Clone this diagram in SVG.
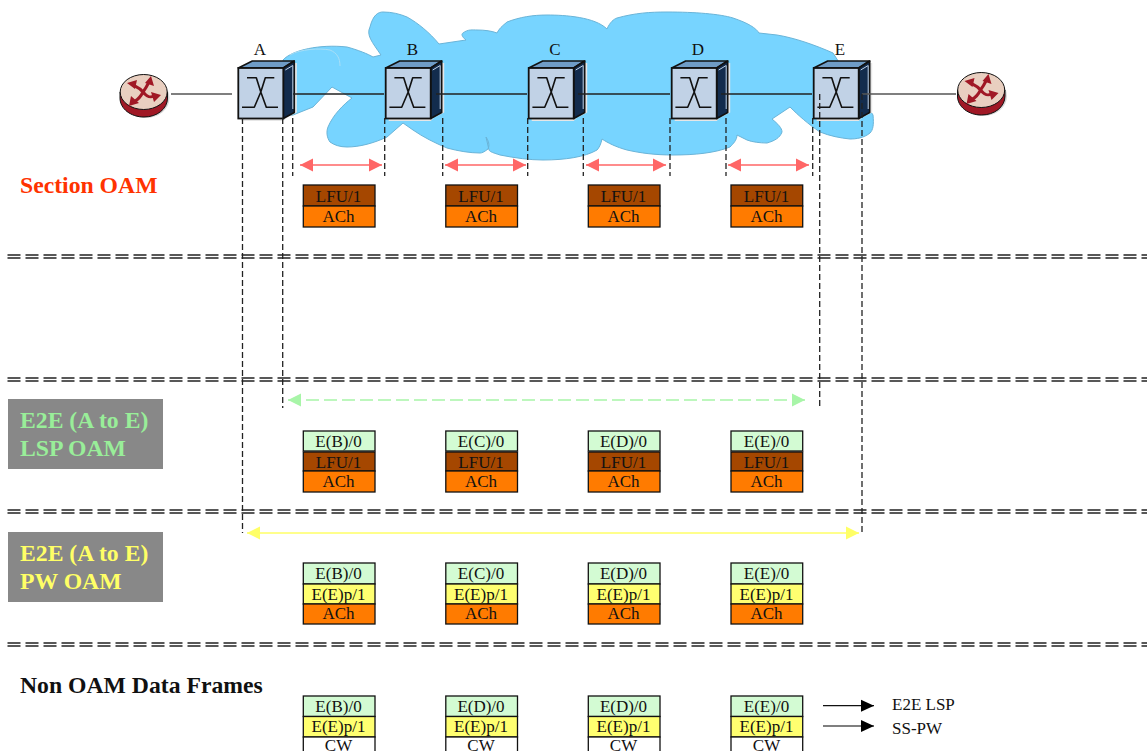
<svg xmlns="http://www.w3.org/2000/svg" width="1147" height="751" viewBox="0 0 1147 751">
<style>
text{font-family:"Liberation Serif","Times New Roman",serif;fill:#111}
.f{font-size:17px;text-anchor:middle}
.h{font-weight:bold;font-size:23.7px}
.c{stroke:#222;stroke-width:1.5;fill:none}
.v{stroke:#222;stroke-width:1.3;stroke-dasharray:6 3;fill:none}
.s{stroke:#222;stroke-width:1.3;stroke-dasharray:13 5;fill:none}
.b{stroke:#111;stroke-width:1.3}
.red{stroke:#ff6666;stroke-width:1.3;marker-start:url(#rs);marker-end:url(#re);fill:none}
.grn{stroke:#a8f5a8;stroke-width:1.5;stroke-dasharray:13 5;marker-start:url(#gs);marker-end:url(#ge);fill:none}
.yel{stroke:#ffff66;stroke-width:1.5;marker-start:url(#ys);marker-end:url(#ye);fill:none}
.blk{stroke:#111;stroke-width:1.3;marker-end:url(#k);fill:none}
</style>
<defs>
<marker id="re" markerUnits="userSpaceOnUse" markerWidth="14" markerHeight="14" refX="13" refY="7" orient="auto"><path d="M0,0.5L13,7L0,13.5Z" fill="#ff6666"/></marker>
<marker id="rs" markerUnits="userSpaceOnUse" markerWidth="14" markerHeight="14" refX="0" refY="7" orient="auto"><path d="M13,0.5L0,7L13,13.5Z" fill="#ff6666"/></marker>
<marker id="ge" markerUnits="userSpaceOnUse" markerWidth="14" markerHeight="14" refX="13" refY="7" orient="auto"><path d="M0,0.5L13,7L0,13.5Z" fill="#a8f5a8"/></marker>
<marker id="gs" markerUnits="userSpaceOnUse" markerWidth="14" markerHeight="14" refX="0" refY="7" orient="auto"><path d="M13,0.5L0,7L13,13.5Z" fill="#a8f5a8"/></marker>
<marker id="ye" markerUnits="userSpaceOnUse" markerWidth="14" markerHeight="14" refX="13" refY="7" orient="auto"><path d="M0,0.5L13,7L0,13.5Z" fill="#ffff66"/></marker>
<marker id="ys" markerUnits="userSpaceOnUse" markerWidth="14" markerHeight="14" refX="0" refY="7" orient="auto"><path d="M13,0.5L0,7L13,13.5Z" fill="#ffff66"/></marker>
<marker id="k" markerUnits="userSpaceOnUse" markerWidth="14" markerHeight="14" refX="13" refY="7" orient="auto"><path d="M0,1L13,7L0,13Z" fill="#000"/></marker>
<g id="switch">
<path d="M3,58H46L58.500,51.500V2H56V50L45,60H3Z" fill="#e6e6e6"/>
<path d="M0,7L14,0H56L45,7Z" fill="#6f9cc6" stroke="#111" stroke-width="1.6" stroke-linejoin="round"/>
<path d="M45,7L56,0V51.500L45,57.500Z" fill="#132c4d" stroke="#111" stroke-width="1.6" stroke-linejoin="round"/>
<path d="M47,9L54.500,4.500V48" fill="none" stroke="#c0d2e6" stroke-width="1"/>
<rect x="0" y="7" width="45" height="50.500" fill="#c1d2e6" stroke="#111" stroke-width="1.8"/>
<path d="M8.700,16.700H18L22.500,31L28,46.300H39.700M36,16.700H27L22.500,31L16,46.300H3.700" fill="none" stroke="#111" stroke-width="1.600" stroke-linejoin="round"/>
</g>
<g id="router">
<ellipse cx="25.500" cy="24" rx="24" ry="20" fill="#d8d8d8"/>
<path d="M0,18V24C0,35 11,43 24,43C37,43 47.500,35 47.500,24V18Z" fill="#a01825" stroke="#111" stroke-width="1"/>
<ellipse cx="23.700" cy="18" rx="23.500" ry="17.500" fill="#e9cfc0" stroke="#111" stroke-width="1"/>
<path d="M13,11C17,13 20,14 23,18C26,14 27,12 29,8M23,18C21,22 19,25 15,27M23,18C27,23 30,24 34,22" fill="none" stroke="#a01825" stroke-width="3"/>
<path d="M7,9L17,6L15,15ZM31,2L34,12L25,9ZM9,32L11,22L19,29ZM41,21L34,28L31,18Z" fill="#a01825"/>
</g>
</defs>
<rect width="1147" height="751" fill="#fff"/>
<g id="cloud">
<path d="M283,60C292,50 320,44 347,47C358,50 368,54 373,57L381,55C372,42 366,35 370,27C373,15 378,12 383,12C392,12 400,14 407,17C418,23 430,33 439,44L466,40C462,37 461,34 463,33C468,29 473,30 477,30C485,30 492,31 497,33C500,27 505,24 507,22C520,17 533,15 547,15C565,15 595,17 607,29C610,22 614,19 617,18C635,13 650,12 667,12C695,12 720,14 733,18C748,23 756,28 759,33L777,35C795,38 815,45 833,53L873,115C874,125 873,130 870,133C864,138 856,139 850,139C840,138 830,136 820,132C808,124 798,115 790,107L772,119C778,124 782,128 782,132C780,138 774,141 767,143C760,143 752,142 747,140L737,135C737,140 733,144 730,147C715,153 695,155 673,155C655,155 640,153 627,150C616,147 608,143 602,139C601,144 599,148 597,150C585,157 565,160 543,160C530,160 515,158 500,155C494,153 490,152 489,150L486,137C490,143 489,147 488,149C484,152 482,153 480,153C470,153 458,151 447,148C435,143 423,137 413,130L403,123L387,137C374,143 360,147 347,147C340,147 334,145 330,142C327,138 326,132 328,127C333,115 343,105 352,98L332,87L313,107L293,115L283,116Z" fill="#77d4ff" stroke="#6ab4d8" stroke-width="1"/>
<path d="M290,55C300,49 320,48 330,50C337,53 340,58 340,66" fill="none" stroke="#a9dff7" stroke-width="1"/>
</g>
<g id="node-R1"><use href="#router" x="120" y="74"/></g>
<g id="node-A"><use href="#switch" x="238.300" y="61"/><text class="f" x="260" y="55">A</text></g>
<g id="node-B"><use href="#switch" x="385.700" y="61"/><text class="f" x="412.500" y="55">B</text></g>
<g id="node-C"><use href="#switch" x="528.700" y="61"/><text class="f" x="555" y="55">C</text></g>
<g id="node-D"><use href="#switch" x="671.700" y="61"/><text class="f" x="698" y="55">D</text></g>
<g id="node-E"><use href="#switch" x="813.700" y="61"/><text class="f" x="840" y="55">E</text></g>
<g id="node-R2"><use href="#router" x="957.500" y="72"/></g>
<g id="connectors">
<path d="M171,94H232M862,94H956" fill="none" stroke="#555" stroke-width="1.500"/>
<path class="c" d="M293,94H384M436,94H527M578,94H670M721,94H812"/>
<path class="v" d="M242.500,118V533M282.700,118V408M292.700,118V176M384.700,118V176M442.700,118V176M527.700,118V176M583.300,118V176M670,118V176M726,118V176M812.700,118V176M819.700,94V408M862,94V533"/>
<g>
<line class="s" x1="7.500" y1="255" x2="1147" y2="255"/><line class="s" x1="7.500" y1="258" x2="1147" y2="258"/>
<line class="s" x1="7.500" y1="378" x2="1147" y2="378"/><line class="s" x1="7.500" y1="381" x2="1147" y2="381"/>
<line class="s" x1="7.500" y1="510" x2="1147" y2="510"/><line class="s" x1="7.500" y1="513" x2="1147" y2="513"/>
<line class="s" x1="7.500" y1="643" x2="1147" y2="643"/><line class="s" x1="7.500" y1="646" x2="1147" y2="646"/>
</g>
<path class="red" d="M300,165H382"/>
<path class="red" d="M445,165H526"/>
<path class="red" d="M586,165H666"/>
<path class="red" d="M728,165H809"/>
<path class="grn" d="M288,400H805"/>
<path class="yel" d="M247,533H859"/>
<path class="blk" d="M823,705.700H874"/>
<path class="blk" d="M823,726H874" style="stroke:#555;stroke-width:1.500"/>
</g>
<g id="labels">
<text class="h" x="20" y="193" style="fill:#ff3300">Section OAM</text>
<rect x="8" y="399" width="155" height="70" fill="#888"/>
<text class="h" x="20" y="428" style="fill:#99ee99">E2E (A to E)</text>
<text class="h" x="20" y="456" style="fill:#99ee99">LSP OAM</text>
<rect x="8" y="532" width="155" height="70" fill="#888"/>
<text class="h" x="20" y="561" style="fill:#ffff66">E2E (A to E)</text>
<text class="h" x="20" y="589" style="fill:#ffff66">PW OAM</text>
<text class="h" x="20" y="693" style="fill:#111">Non OAM Data Frames</text>
<text x="892" y="710" font-size="17">E2E LSP</text>
<text x="892" y="734" font-size="17">SS-PW</text>
</g>
<g id="frames-section">
<rect class="b" x="303.300" y="185" width="71.700" height="21" fill="#a54700"/><rect class="b" x="303.300" y="206" width="71.700" height="21" fill="#ff7b00"/><text class="f" x="338.500" y="202">LFU/1</text><text class="f" x="338.500" y="222">ACh</text>
<rect class="b" x="445.800" y="185" width="71.700" height="21" fill="#a54700"/><rect class="b" x="445.800" y="206" width="71.700" height="21" fill="#ff7b00"/><text class="f" x="481" y="202">LFU/1</text><text class="f" x="481" y="222">ACh</text>
<rect class="b" x="588.300" y="185" width="71.700" height="21" fill="#a54700"/><rect class="b" x="588.300" y="206" width="71.700" height="21" fill="#ff7b00"/><text class="f" x="623.500" y="202">LFU/1</text><text class="f" x="623.500" y="222">ACh</text>
<rect class="b" x="731" y="185" width="71.700" height="21" fill="#a54700"/><rect class="b" x="731" y="206" width="71.700" height="21" fill="#ff7b00"/><text class="f" x="766.500" y="202">LFU/1</text><text class="f" x="766.500" y="222">ACh</text>
</g>
<g id="frames-lsp">
<rect class="b" x="303.300" y="431" width="71.700" height="20" fill="#d3fbd3"/><rect class="b" x="303.300" y="452" width="71.700" height="19" fill="#a54700"/><rect class="b" x="303.300" y="471" width="71.700" height="21" fill="#ff7b00"/><text class="f" x="338.500" y="447">E(B)/0</text><text class="f" x="338.500" y="468">LFU/1</text><text class="f" x="338.500" y="487">ACh</text>
<rect class="b" x="445.800" y="431" width="71.700" height="20" fill="#d3fbd3"/><rect class="b" x="445.800" y="452" width="71.700" height="19" fill="#a54700"/><rect class="b" x="445.800" y="471" width="71.700" height="21" fill="#ff7b00"/><text class="f" x="481" y="447">E(C)/0</text><text class="f" x="481" y="468">LFU/1</text><text class="f" x="481" y="487">ACh</text>
<rect class="b" x="588.300" y="431" width="71.700" height="20" fill="#d3fbd3"/><rect class="b" x="588.300" y="452" width="71.700" height="19" fill="#a54700"/><rect class="b" x="588.300" y="471" width="71.700" height="21" fill="#ff7b00"/><text class="f" x="623.500" y="447">E(D)/0</text><text class="f" x="623.500" y="468">LFU/1</text><text class="f" x="623.500" y="487">ACh</text>
<rect class="b" x="731" y="431" width="71.700" height="20" fill="#d3fbd3"/><rect class="b" x="731" y="452" width="71.700" height="19" fill="#a54700"/><rect class="b" x="731" y="471" width="71.700" height="21" fill="#ff7b00"/><text class="f" x="766.500" y="447">E(E)/0</text><text class="f" x="766.500" y="468">LFU/1</text><text class="f" x="766.500" y="487">ACh</text>
</g>
<g id="frames-pw">
<rect class="b" x="303.300" y="563" width="71.700" height="21" fill="#d3fbd3"/><rect class="b" x="303.300" y="584" width="71.700" height="20" fill="#ffff70"/><rect class="b" x="303.300" y="604" width="71.700" height="20" fill="#ff7b00"/><text class="f" x="338.500" y="579">E(B)/0</text><text class="f" x="338.500" y="600">E(E)p/1</text><text class="f" x="338.500" y="619">ACh</text>
<rect class="b" x="445.800" y="563" width="71.700" height="21" fill="#d3fbd3"/><rect class="b" x="445.800" y="584" width="71.700" height="20" fill="#ffff70"/><rect class="b" x="445.800" y="604" width="71.700" height="20" fill="#ff7b00"/><text class="f" x="481" y="579">E(C)/0</text><text class="f" x="481" y="600">E(E)p/1</text><text class="f" x="481" y="619">ACh</text>
<rect class="b" x="588.300" y="563" width="71.700" height="21" fill="#d3fbd3"/><rect class="b" x="588.300" y="584" width="71.700" height="20" fill="#ffff70"/><rect class="b" x="588.300" y="604" width="71.700" height="20" fill="#ff7b00"/><text class="f" x="623.500" y="579">E(D)/0</text><text class="f" x="623.500" y="600">E(E)p/1</text><text class="f" x="623.500" y="619">ACh</text>
<rect class="b" x="731" y="563" width="71.700" height="21" fill="#d3fbd3"/><rect class="b" x="731" y="584" width="71.700" height="20" fill="#ffff70"/><rect class="b" x="731" y="604" width="71.700" height="20" fill="#ff7b00"/><text class="f" x="766.500" y="579">E(E)/0</text><text class="f" x="766.500" y="600">E(E)p/1</text><text class="f" x="766.500" y="619">ACh</text>
</g>
<g id="frames-data">
<rect class="b" x="303.300" y="696" width="71.700" height="20.500" fill="#d3fbd3"/><rect class="b" x="303.300" y="716.500" width="71.700" height="20.500" fill="#ffff70"/><rect class="b" x="303.300" y="737" width="71.700" height="20" fill="#fff"/><text class="f" x="338.500" y="712">E(B)/0</text><text class="f" x="338.500" y="732">E(E)p/1</text><text class="f" x="338.500" y="751">CW</text>
<rect class="b" x="445.800" y="696" width="71.700" height="20.500" fill="#d3fbd3"/><rect class="b" x="445.800" y="716.500" width="71.700" height="20.500" fill="#ffff70"/><rect class="b" x="445.800" y="737" width="71.700" height="20" fill="#fff"/><text class="f" x="481" y="712">E(D)/0</text><text class="f" x="481" y="732">E(E)p/1</text><text class="f" x="481" y="751">CW</text>
<rect class="b" x="588.300" y="696" width="71.700" height="20.500" fill="#d3fbd3"/><rect class="b" x="588.300" y="716.500" width="71.700" height="20.500" fill="#ffff70"/><rect class="b" x="588.300" y="737" width="71.700" height="20" fill="#fff"/><text class="f" x="623.500" y="712">E(D)/0</text><text class="f" x="623.500" y="732">E(E)p/1</text><text class="f" x="623.500" y="751">CW</text>
<rect class="b" x="731" y="696" width="71.700" height="20.500" fill="#d3fbd3"/><rect class="b" x="731" y="716.500" width="71.700" height="20.500" fill="#ffff70"/><rect class="b" x="731" y="737" width="71.700" height="20" fill="#fff"/><text class="f" x="766.500" y="712">E(E)/0</text><text class="f" x="766.500" y="732">E(E)p/1</text><text class="f" x="766.500" y="751">CW</text>
</g>
</svg>
